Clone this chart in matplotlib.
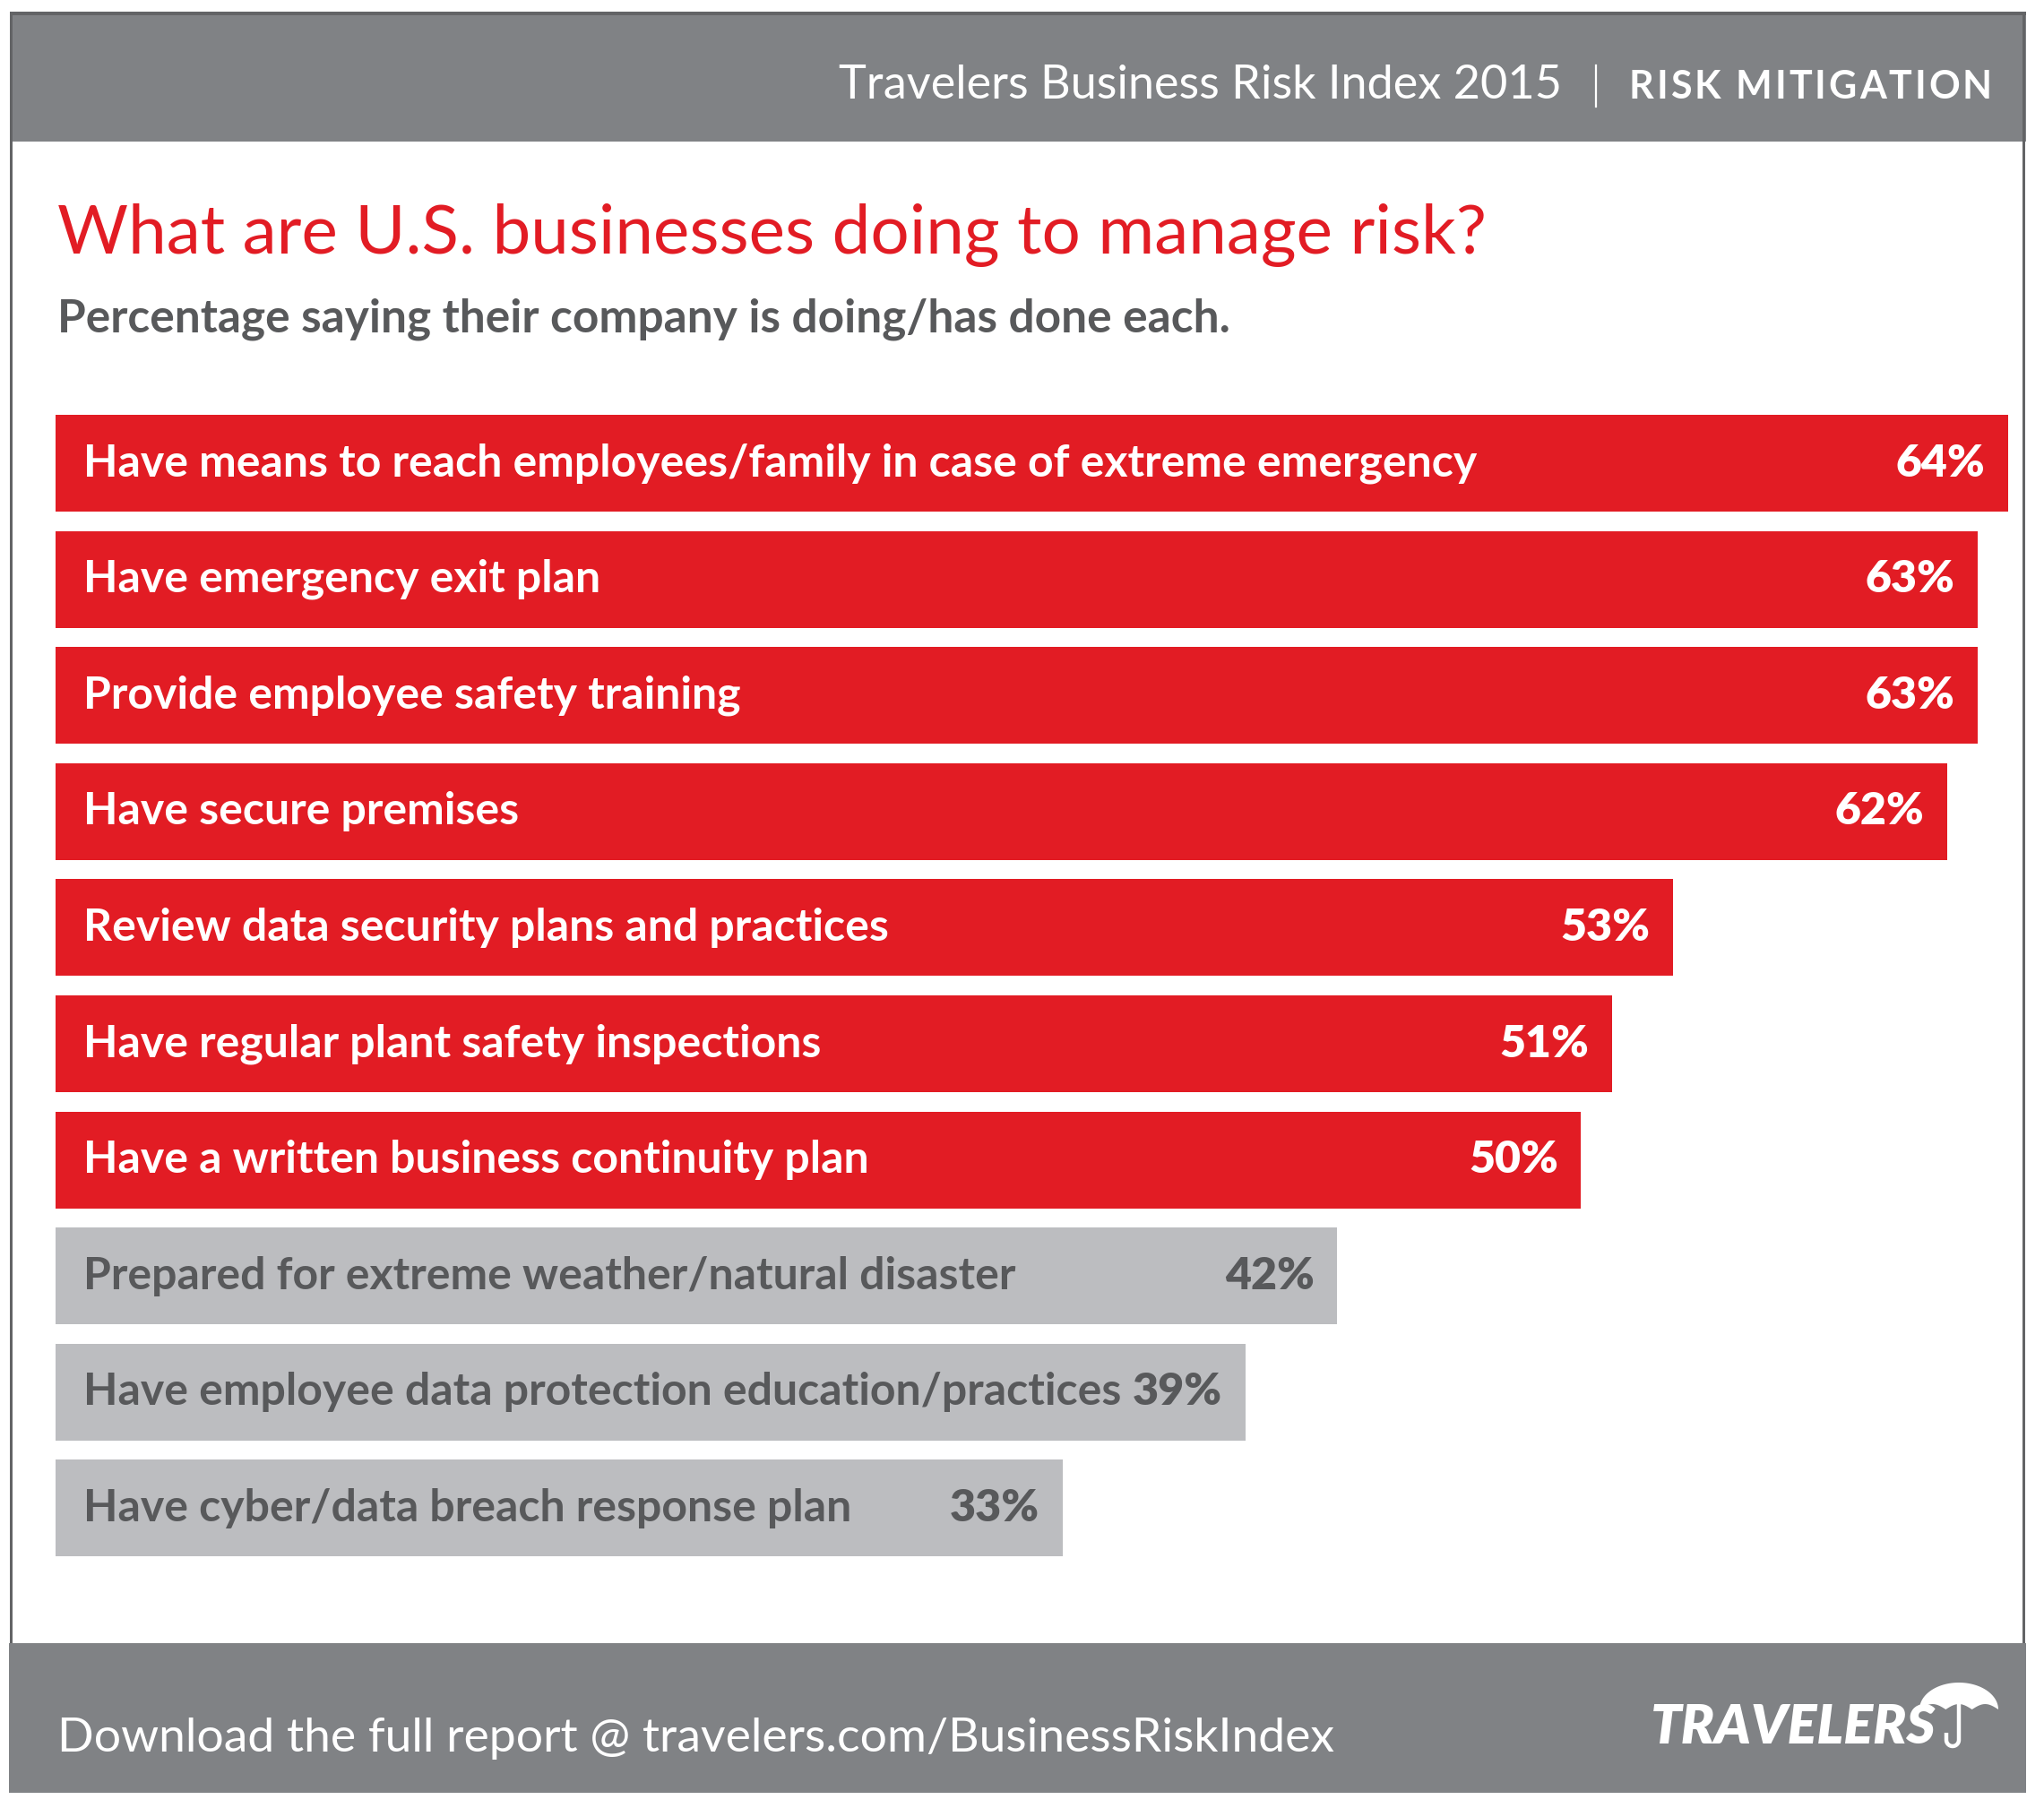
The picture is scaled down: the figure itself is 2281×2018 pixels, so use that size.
import numpy as np
import matplotlib
matplotlib.use("Agg")
import matplotlib.pyplot as plt
from matplotlib.patches import Rectangle, Polygon

# ---- data ----
categories = [
    "Have means to reach employees/family in case of extreme emergency",
    "Have emergency exit plan",
    "Provide employee safety training",
    "Have secure premises",
    "Review data security plans and practices",
    "Have regular plant safety inspections",
    "Have a written business continuity plan",
    "Prepared for extreme weather/natural disaster",
    "Have employee data protection education/practices",
    "Have cyber/data breach response plan",
]
values = [64, 63, 63, 62, 53, 51, 50, 42, 39, 33]
highlight = [True, True, True, True, True, True, True, False, False, False]
value_labels = [f"{v}%" for v in values]

title = "What are U.S. businesses doing to manage risk?"
subtitle = "Percentage saying their company is doing/has done each."
header_left = "Travelers Business Risk Index 2015"
header_right = "RISK MITIGATION"
footer_text = "Download the full report @ travelers.com/BusinessRiskIndex"
logo_text = "TRAVELERS"

RED = "#E21C24"
GRAY_BAR = "#BCBDC0"
GRAY_BAND = "#808285"
GRAY_TEXT = "#58595B"
BORDER = "#636466"

FONT = "Lato"
W, H = 2281, 2018
DPI = 100
fig = plt.figure(figsize=(W / DPI, H / DPI), dpi=DPI)
fig.patch.set_facecolor("white")

# background axes in pixel coordinates
bg = fig.add_axes([0, 0, 1, 1])
bg.set_xlim(0, W)
bg.set_ylim(H, 0)
bg.axis("off")

# header and footer bands
bg.add_patch(Rectangle((12, 13), 2249, 145, facecolor=GRAY_BAND, edgecolor="none"))
bg.add_patch(Rectangle((12, 13), 2249, 4, facecolor=BORDER, edgecolor="none"))
bg.add_patch(Rectangle((10, 1834), 2251, 167, facecolor=GRAY_BAND, edgecolor="none"))
# side borders
bg.add_patch(Rectangle((11, 13), 3, 1821, facecolor=BORDER, edgecolor="none"))
bg.add_patch(Rectangle((2257, 13), 3, 1821, facecolor=BORDER, edgecolor="none"))

# header text
bg.text(1743, 95, header_left, color="white", fontsize=37.6, family=FONT,
        ha="right", va="center")
bg.plot([1781, 1781], [73, 119], color="white", lw=1.6)

renderer = fig.canvas.get_renderer()


def char_width(ch, **kw):
    if ch == " ":
        a = bg.text(0, 0, "II", **kw)
        b = bg.text(0, 0, "I I", **kw)
        w = b.get_window_extent(renderer).width - a.get_window_extent(renderer).width
        a.remove(); b.remove()
        return w
    t = bg.text(0, 0, ch, **kw)
    w = t.get_window_extent(renderer).width
    t.remove()
    return w


hr_kw = dict(color="white", fontsize=31, family=FONT, fontweight="bold")
spacing = 3.0
widths = [char_width(c, **hr_kw) for c in header_right]
total = sum(widths) + spacing * (len(widths) - 1)
xpos = 2223 - total
for c, w in zip(header_right, widths):
    if c != " ":
        bg.text(xpos, 110, c, ha="left", va="baseline", **hr_kw)
    xpos += w + spacing

# title and subtitle
bg.text(64, 283, title, color=RED, fontsize=55, family=FONT, ha="left", va="baseline")
bg.text(64, 370, subtitle, color=GRAY_TEXT, fontsize=37, family=FONT,
        fontweight="bold", ha="left", va="baseline")

# footer
bg.text(64, 1941, footer_text, color="white", fontsize=38.5, family=FONT,
        ha="left", va="center")
bg.text(2160, 1946, logo_text, color="white", fontsize=44, family=FONT,
        fontweight="heavy", style="italic", ha="right", va="baseline")

# umbrella
cx, rx, ry, base = 2186, 44, 30, 1908
t = np.linspace(np.pi, 0, 60)
top = np.column_stack([cx + rx * np.cos(t), base - ry * np.sin(t)])
scal = []
x0 = cx + rx
seg = 2 * rx / 3
for k in range(3):
    xs = np.linspace(x0 - k * seg, x0 - (k + 1) * seg, 15)
    u = (xs - (x0 - k * seg)) / (-seg)
    ys = base - 6 * np.sin(np.pi * u)
    scal.append(np.column_stack([xs, ys]))
canopy = np.vstack([top] + scal)
bg.add_patch(Polygon(canopy, closed=True, facecolor="white", edgecolor="none"))
ht = np.linspace(0, np.pi, 30)
hx = np.concatenate([[cx, cx], cx - 7 + 7 * np.cos(ht), [cx - 14]])
hy = np.concatenate([[1900, 1942], 1942 + 7 * np.sin(ht), [1934]])
bg.plot(hx, hy, color="white", lw=3.2, solid_capstyle="butt")

# bar axes
bar_left, bar_top = 62, 463
px_per_unit = 34.05
pitch, bar_h = 129.6, 108
n = len(values)
xmax = 64
ax_w = xmax * px_per_unit
ax_h = (n - 1) * pitch + bar_h
ax = fig.add_axes([bar_left / W, 1 - (bar_top + ax_h) / H, ax_w / W, ax_h / H])
ax.set_facecolor("none")
y = np.arange(n)
colors = [RED if h else GRAY_BAR for h in highlight]
hfrac = bar_h / pitch
ax.barh(y, values, height=hfrac, color=colors, edgecolor="none")
ax.set_xlim(0, xmax)
ax.set_ylim(n - 1 + hfrac / 2, -hfrac / 2)
ax.axis("off")

for i, (cat, v, lab, hl) in enumerate(zip(categories, values, value_labels, highlight)):
    tc = "white" if hl else GRAY_TEXT
    ax.text(0.9, i, cat, color=tc, fontsize=36, family=FONT, fontweight="bold",
            ha="left", va="center")
    ax.text(v - 0.75, i, lab, color=tc, fontsize=36, family=FONT, fontweight="heavy",
            ha="right", va="center")

fig.savefig("out.png", dpi=DPI, facecolor="white")
